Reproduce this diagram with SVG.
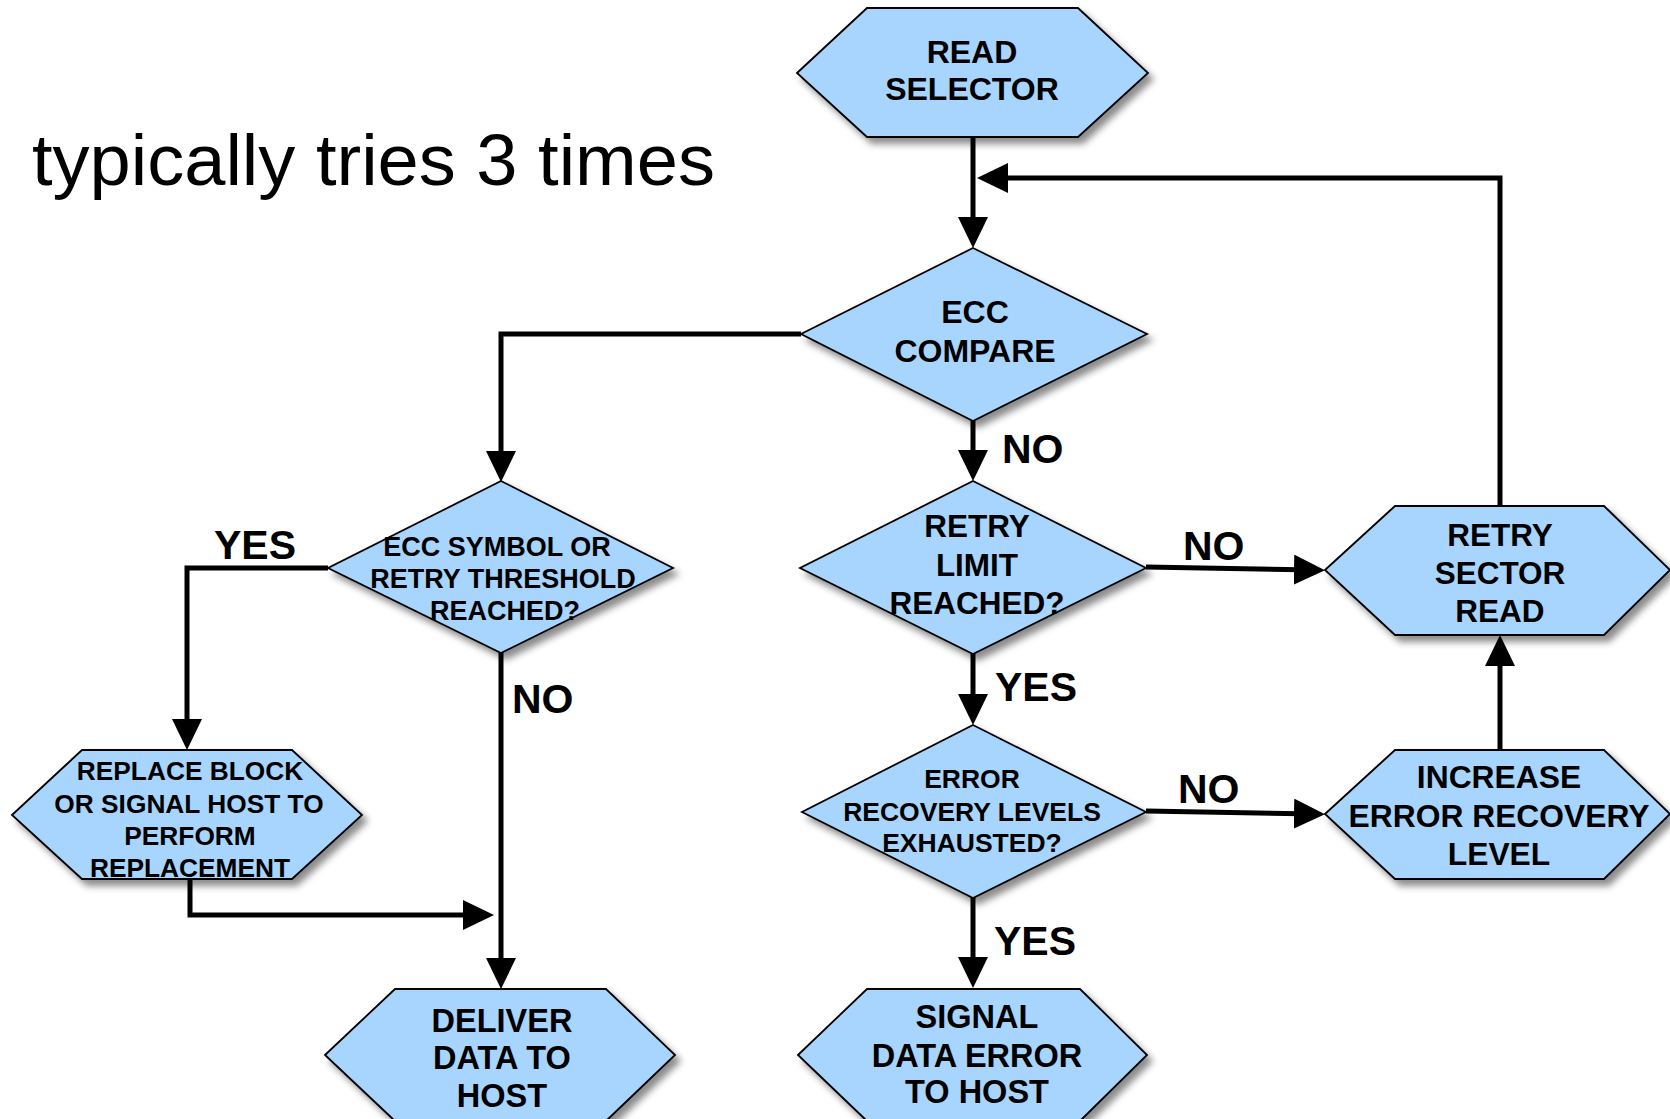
<svg xmlns="http://www.w3.org/2000/svg" width="1670" height="1119" viewBox="0 0 1670 1119">
<style>
.shape{fill:#A8D5FE;stroke:#000;stroke-width:1.8;stroke-linejoin:miter;filter:url(#sh)}
.t{font-family:"Liberation Sans",Arial,Helvetica,sans-serif;font-weight:bold;fill:#000;text-anchor:middle}
.lbl{font-family:"Liberation Sans",Arial,Helvetica,sans-serif;font-weight:bold;font-size:41px;fill:#000}
.c{fill:none;stroke:#000;stroke-width:5;stroke-linejoin:miter;marker-end:url(#ah)}
</style>
<defs>
<filter id="sh" x="-10%" y="-10%" width="125%" height="130%">
<feDropShadow dx="5" dy="6" stdDeviation="3.5" flood-color="#000" flood-opacity="0.45"/>
</filter>
<marker id="ah" viewBox="0 0 31 30" refX="21" refY="15" markerWidth="31" markerHeight="30" markerUnits="userSpaceOnUse" orient="auto">
<path d="M0,0 L31,15 L0,30 z" fill="#000"/>
</marker>
</defs>
<rect width="1670" height="1119" fill="#fff"/>
<text x="32" y="185" font-family="Liberation Sans,Arial,Helvetica,sans-serif" font-size="72" textLength="683" lengthAdjust="spacingAndGlyphs" fill="#000">typically tries 3 times</text>
<g id="connectors">
<path class="c" d="M973,137 V238"/>
<path class="c" d="M801,334 H501 V472"/>
<path class="c" d="M973,421 V471"/>
<path class="c" d="M328,568 H187 V740"/>
<path class="c" d="M501,653 V979"/>
<path class="c" d="M190,879 V915 H484"/>
<path class="c" d="M1146,567 L1315,570"/>
<path class="c" d="M973,654 V715"/>
<path class="c" d="M1146,811 L1315,814"/>
<path class="c" d="M973,897 V978"/>
<path class="c" d="M1500,750 V645"/>
<path class="c" d="M1500,506 V178 H987"/>
</g>
<g id="labels">
<text class="lbl" x="1002" y="463">NO</text>
<text class="lbl" x="1183" y="560">NO</text>
<text class="lbl" x="995" y="701">YES</text>
<text class="lbl" x="1178" y="803">NO</text>
<text class="lbl" x="994" y="955">YES</text>
<text class="lbl" x="214" y="559">YES</text>
<text class="lbl" x="512" y="713">NO</text>
</g>
<g id="read-selector">
<polygon class="shape" points="797,73 867,8 1078,8 1148,73 1078,137 867,137"/>
<text class="t" font-size="32" x="972" y="63">READ</text>
<text class="t" font-size="32" x="972" y="100">SELECTOR</text>
</g>
<g id="ecc-compare">
<polygon class="shape" points="973,248 1147,334 973,421 801,334"/>
<text class="t" font-size="32" x="975" y="323">ECC</text>
<text class="t" font-size="32" x="975" y="362">COMPARE</text>
</g>
<g id="ecc-symbol">
<polygon class="shape" points="501,481 673,568 501,653 328,568"/>
<text class="t" font-size="27" x="497" y="556">ECC SYMBOL OR</text>
<text class="t" font-size="27" x="503" y="588">RETRY THRESHOLD</text>
<text class="t" font-size="27" x="505" y="620">REACHED?</text>
</g>
<g id="retry-limit">
<polygon class="shape" points="973,481 1146,568 973,654 800,568"/>
<text class="t" font-size="31.5" x="977" y="537">RETRY</text>
<text class="t" font-size="31.5" x="977" y="576">LIMIT</text>
<text class="t" font-size="31.5" x="977" y="614">REACHED?</text>
</g>
<g id="error-recovery">
<polygon class="shape" points="973,725 1146,812 973,898 802,812"/>
<text class="t" font-size="26.5" x="972" y="788">ERROR</text>
<text class="t" font-size="26.5" x="972" y="821">RECOVERY LEVELS</text>
<text class="t" font-size="26.5" x="972" y="852">EXHAUSTED?</text>
</g>
<g id="replace-block">
<polygon class="shape" points="12,815 82,750 292,750 362,815 292,879 82,879"/>
<text class="t" font-size="26.3" x="190" y="780">REPLACE BLOCK</text>
<text class="t" font-size="26.3" x="189" y="813">OR SIGNAL HOST TO</text>
<text class="t" font-size="26.3" x="190" y="845">PERFORM</text>
<text class="t" font-size="26.3" x="190" y="877">REPLACEMENT</text>
</g>
<g id="retry-sector-read">
<polygon class="shape" points="1325,570 1395,506 1604,506 1670,570 1604,635 1395,635"/>
<text class="t" font-size="31.5" x="1500" y="546">RETRY</text>
<text class="t" font-size="31.5" x="1500" y="584">SECTOR</text>
<text class="t" font-size="31.5" x="1500" y="622">READ</text>
</g>
<g id="increase-error-recovery">
<polygon class="shape" points="1325,814 1395,750 1604,750 1670,814 1604,879 1395,879"/>
<text class="t" font-size="31.8" x="1499" y="788">INCREASE</text>
<text class="t" font-size="31.8" x="1499" y="827">ERROR RECOVERY</text>
<text class="t" font-size="31.8" x="1499" y="865">LEVEL</text>
</g>
<g id="deliver-data">
<polygon class="shape" points="325,1055 395,989 606,989 675,1055 606,1121 395,1121"/>
<text class="t" font-size="32.5" x="502" y="1032">DELIVER</text>
<text class="t" font-size="32.5" x="502" y="1069">DATA TO</text>
<text class="t" font-size="32.5" x="502" y="1107">HOST</text>
</g>
<g id="signal-data-error">
<polygon class="shape" points="798,1055 867,989 1080,989 1147,1055 1080,1121 867,1121"/>
<text class="t" font-size="32.5" x="977" y="1028">SIGNAL</text>
<text class="t" font-size="32.5" x="977" y="1067">DATA ERROR</text>
<text class="t" font-size="32.5" x="977" y="1103">TO HOST</text>
</g>
</svg>
